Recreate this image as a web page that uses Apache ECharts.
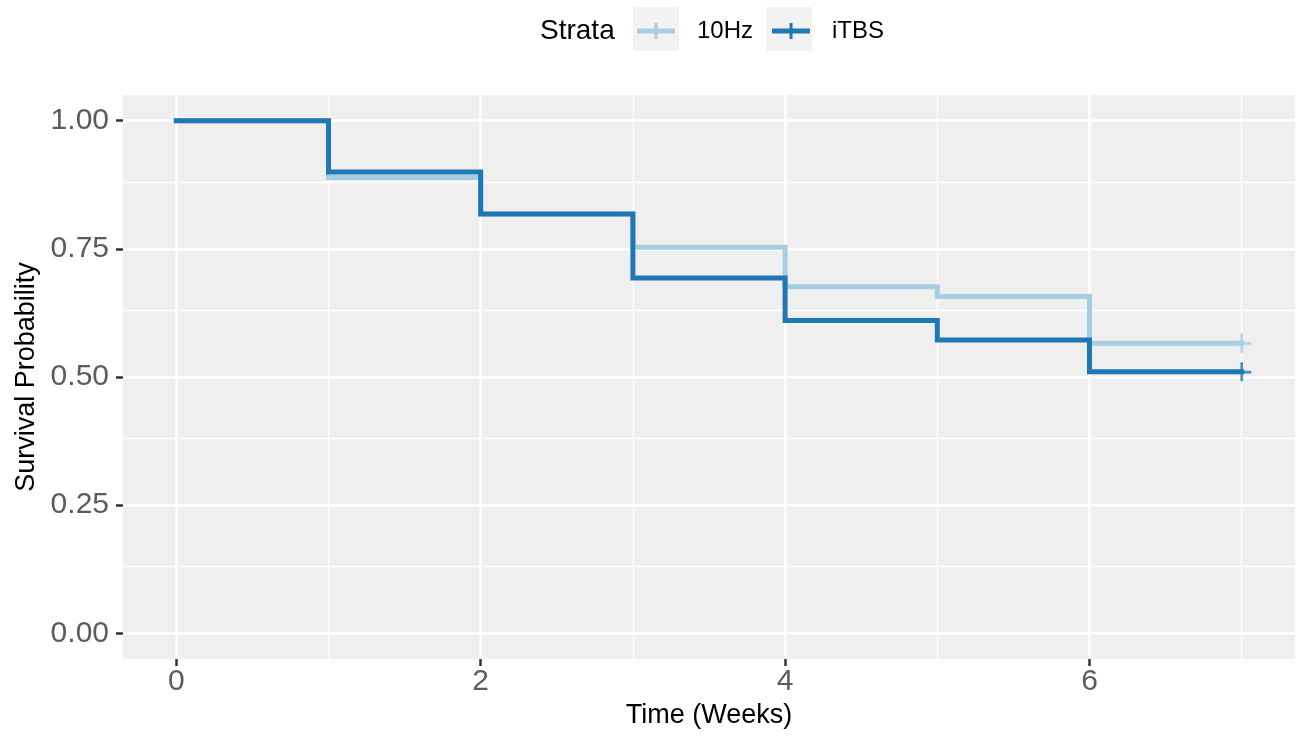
<!DOCTYPE html>
<html>
<head>
<meta charset="utf-8">
<script src="https://cdn.jsdelivr.net/npm/echarts@6/dist/echarts.min.js"></script>
<style>
html,body{margin:0;padding:0;background:#fff;}
#chart{width:1300px;height:737px;}
</style>
</head>
<body>
<div id="chart"></div>
<script>
// ---- data ----
const timeWeeks = [0, 1, 2, 3, 4, 5, 6, 7];
const surv10Hz = [1.000, 0.889, 0.818, 0.753, 0.676, 0.657, 0.566, 0.566];
const survITBS = [1.000, 0.900, 0.818, 0.693, 0.610, 0.572, 0.510, 0.510];
const censorTime10Hz = [7];
const censorSurv10Hz = [0.566];
const censorTimeITBS = [7];
const censorSurvITBS = [0.510];
const xTickValues = [0, 2, 4, 6];
const xMinorValues = [1, 3, 5, 7];
const yTickValues = [0, 0.25, 0.5, 0.75, 1.0];
const yMinorValues = [0.125, 0.375, 0.625, 0.875];
const strataNames = ['10Hz', 'iTBS'];
const legendTitle = 'Strata';
const xTitle = 'Time (Weeks)';
const yTitle = 'Survival Probability';

// ---- styles ----
const colors = ['#a6cee3', '#1f78b4'];
const FONT = 'Liberation Sans, Arial, Helvetica, sans-serif';

const pairs = (xs, ys) => xs.map((x, i) => [x, ys[i]]);
const legendIcon = 'path://M0,5.5 H38 V10.5 H0 Z M17.5,0 H20.5 V16 H17.5 Z';
const censorSymbol = 'path://M0,8 H18 V10.5 H0 Z M7.75,0 H10.25 V18 H7.75 Z';

const gridLines = [];
xTickValues.forEach(v => gridLines.push({xAxis: v, lineStyle: {width: 2.5}}));
xMinorValues.forEach(v => gridLines.push({xAxis: v, lineStyle: {width: 1.3}}));
yTickValues.forEach(v => gridLines.push({yAxis: v, lineStyle: {width: 2.5}}));
yMinorValues.forEach(v => gridLines.push({yAxis: v, lineStyle: {width: 1.3}}));

const chart = echarts.init(document.getElementById('chart'), null, {renderer: 'canvas'});
chart.setOption({
  animation: false,
  backgroundColor: '#ffffff',
  textStyle: {fontFamily: FONT},
  grid: {
    left: 123, top: 95, width: 1172, height: 564,
    show: true, backgroundColor: '#efefef', borderWidth: 0
  },
  graphic: [
    {type: 'rect', left: 633, top: 7, shape: {width: 46, height: 44}, style: {fill: '#f2f2f2'}, z: 0},
    {type: 'rect', left: 766, top: 7, shape: {width: 46, height: 44}, style: {fill: '#f2f2f2'}, z: 0},
    {type: 'text', left: 540, top: 17, style: {text: legendTitle, font: '28px ' + FONT, fill: '#000'}, z: 5}
  ],
  legend: {
    show: true,
    left: 637, top: 19,
    padding: 0,
    itemWidth: 38, itemHeight: 16,
    itemGap: 19,
    icon: legendIcon,
    data: strataNames,
    textStyle: {fontSize: 24, color: '#000', fontFamily: FONT, padding: [0, 0, 0, 17]},
    selectedMode: false
  },
  xAxis: {
    type: 'value', min: -0.35, max: 7.35,
    name: xTitle, nameLocation: 'middle', nameGap: 42,
    nameTextStyle: {fontSize: 27, color: '#000', fontFamily: FONT},
    axisLine: {show: false, onZero: false},
    axisTick: {show: true, length: 7, lineStyle: {color: '#333', width: 2.5}, customValues: xTickValues},
    axisLabel: {show: true, fontSize: 30, color: '#5c5c5c', margin: 8, customValues: xTickValues, formatter: v => String(v)},
    splitLine: {show: false}
  },
  yAxis: {
    type: 'value', min: -0.05, max: 1.05,
    name: yTitle, nameLocation: 'middle', nameGap: 80, nameRotate: 90,
    nameTextStyle: {fontSize: 27, color: '#000', fontFamily: FONT},
    axisLine: {show: false, onZero: false},
    axisTick: {show: true, length: 7, lineStyle: {color: '#333', width: 2.5}, customValues: yTickValues},
    axisLabel: {show: true, fontSize: 30, color: '#5c5c5c', margin: 14, customValues: yTickValues, formatter: v => v.toFixed(2)},
    splitLine: {show: false}
  },
  series: [
    {
      name: '__grid', type: 'line', data: [], z: 1, silent: true,
      markLine: {
        silent: true, symbol: ['none', 'none'], z: 1,
        label: {show: false},
        lineStyle: {color: '#ffffff', type: 'solid'},
        emphasis: {disabled: true},
        data: gridLines
      }
    },
    {
      name: strataNames[0], type: 'line', step: 'end',
      data: pairs(timeWeeks, surv10Hz),
      showSymbol: false, symbol: 'none', z: 3,
      lineStyle: {color: colors[0], width: 5, cap: 'square', join: 'miter'},
      itemStyle: {color: colors[0]}
    },
    {
      name: strataNames[1], type: 'line', step: 'end',
      data: pairs(timeWeeks, survITBS),
      showSymbol: false, symbol: 'none', z: 4,
      lineStyle: {color: colors[1], width: 5, cap: 'square', join: 'miter'},
      itemStyle: {color: colors[1]}
    },
    {
      name: strataNames[0] + ' censor', type: 'scatter',
      data: pairs(censorTime10Hz, censorSurv10Hz),
      symbol: censorSymbol, symbolSize: 19, z: 5,
      itemStyle: {color: colors[0]}
    },
    {
      name: strataNames[1] + ' censor', type: 'scatter',
      data: pairs(censorTimeITBS, censorSurvITBS),
      symbol: censorSymbol, symbolSize: 19, z: 5,
      itemStyle: {color: colors[1]}
    }
  ]
});
</script>
</body>
</html>
